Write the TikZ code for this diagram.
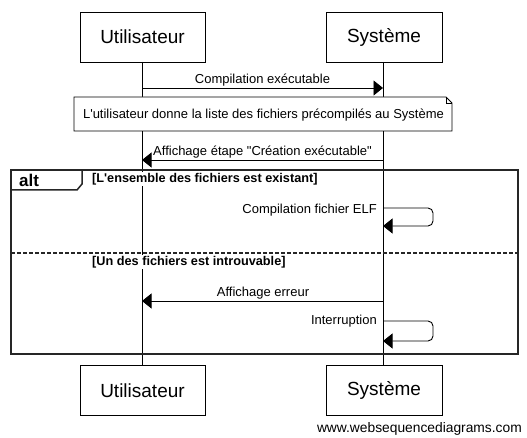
\documentclass[tikz,border=0pt]{standalone}
\usepackage{fontspec}
\setmainfont{Liberation Sans}
\usetikzlibrary{arrows.meta}
\begin{document}
\begin{tikzpicture}[x=1pt,y=-1pt,
  actor/.style={draw=black,line width=0.9pt,fill=white,minimum width=#1,minimum height=50pt,inner sep=0pt,font=\fontsize{19}{22}\selectfont},
  msg/.style={line width=0.9pt,-{Triangle[length=9.5pt,width=15pt]}},
  lbl/.style={inner sep=0pt,font=\fontsize{13}{15}\selectfont},
  guard/.style={fill=white,inner sep=1pt,anchor=west,font=\fontsize{12.7}{15}\selectfont\bfseries},
  life/.style={line width=0.9pt},
  frame/.style={line width=1.8pt,draw=black!85}
]
\useasboundingbox (0,0) rectangle (527,438);
% actors
\node[actor=125pt] (ut) at (142.5,37) {Utilisateur};
\node[actor=116pt] (st) at (384,37) {Système};
\node[actor=125pt] (ub) at (142.5,390.5) {Utilisateur};
\node[actor=116pt] (sb) at (384,390.5) {Système};
% lifelines
\coordinate (ul0) at (142,62);
\coordinate (ul1) at (142,365);
\coordinate (sl0) at (383,62);
\coordinate (sl1) at (383,365);
\draw[life] (ul0) -- (ul1);
\draw[life] (sl0) -- (sl1);
% message 1
\coordinate (m1a) at (142,88);
\coordinate (m1b) at (383,88);
\draw[msg] (m1a) -- (m1b);
\node[lbl] (m1l) at (262.5,80) {Compilation exécutable};
% note
\draw[line width=0.8pt,fill=white] (74,97) -- (446,97) -- (452,103) -- (452,131) -- (74,131) -- cycle;
\draw[line width=0.8pt] (446,97) -- (446,103) -- (452,103);
\node[lbl] (note) at (263.5,115) {L\textquotesingle utilisateur donne la liste des fichiers précompilés au Système};
% message 2
\coordinate (m2a) at (383,160);
\coordinate (m2b) at (142,160);
\draw[msg] (m2a) -- (m2b);
\node[lbl] (m2l) at (262.5,152) {Affichage étape \textquotedbl Création exécutable\textquotedbl};
% alt frame
\draw[frame] (11,170) rectangle (518,354);
\draw[frame,line width=1.5pt] (82,170) -- (82,184) -- (77,190) -- (11,190);
\node[inner sep=0pt,anchor=west,font=\fontsize{17}{20}\selectfont\bfseries] (alt) at (19,180) {alt};
\node[guard] (g1) at (91,179) {[L\textquotesingle ensemble des fichiers est existant]};
% self message 1
\coordinate (s1a) at (383,208);
\coordinate (s1b) at (383,226);
\draw[msg,rounded corners=5pt] (s1a) -- (433,208) -- (433,226) -- (s1b);
\node[lbl,anchor=east] (s1l) at (377,210) {Compilation fichier ELF};
% separator
\draw[line width=1.5pt,draw=black!85,dash pattern=on 4pt off 2pt] (11,253) -- (518,253);
\node[guard] (g2) at (91,262) {[Un des fichiers est introuvable]};
% message 3
\coordinate (m3a) at (383,301);
\coordinate (m3b) at (142,301);
\draw[msg] (m3a) -- (m3b);
\node[lbl] (m3l) at (263,293) {Affichage erreur};
% self message 2
\coordinate (s2a) at (383,321);
\coordinate (s2b) at (383,341);
\draw[msg,rounded corners=5pt] (s2a) -- (433,321) -- (433,341) -- (s2b);
\node[lbl,anchor=east] (s2l) at (377,321) {Interruption};
% watermark
\node[inner sep=0pt,anchor=east,font=\fontsize{13.8}{16}\selectfont] (wm) at (522,429) {www.websequencediagrams.com};
\end{tikzpicture}
\end{document}
